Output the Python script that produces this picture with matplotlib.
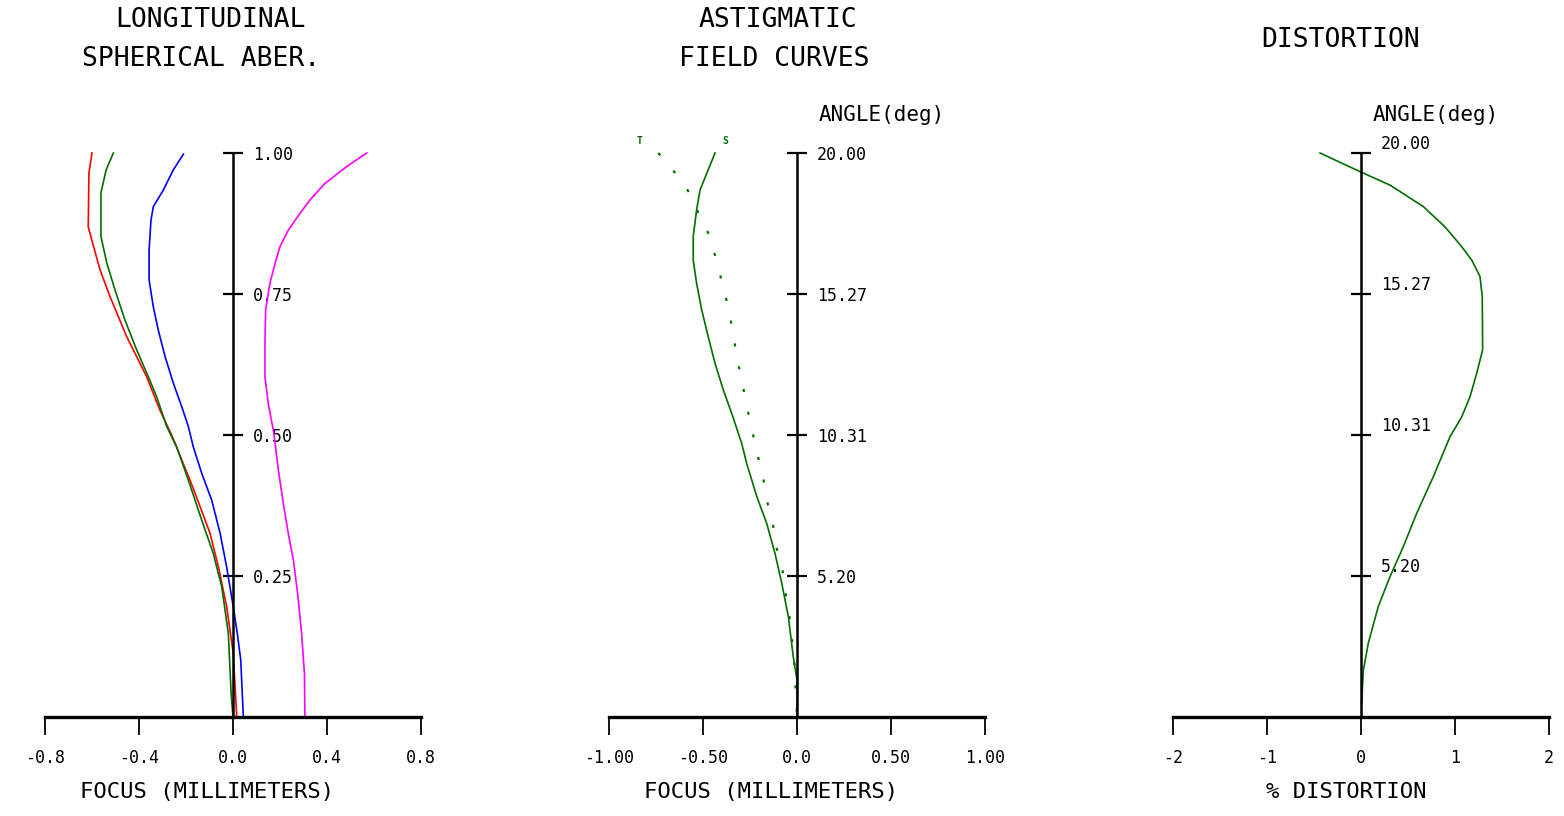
import matplotlib
matplotlib.use("Agg")
import matplotlib.pyplot as plt
import numpy as np

plt.rcParams['font.family'] = ['DejaVu Sans Mono']
plt.rcParams['lines.scale_dashes'] = False

# ---------------- data ----------------
# Longitudinal spherical aberration: relative pupil height vs focus (mm)
sa_red_y = [1.0, 0.965, 0.869, 0.846, 0.793, 0.745, 0.71, 0.674, 0.639, 0.603, 0.544,
            0.5, 0.42, 0.373, 0.326, 0.266, 0.196, 0.113, 0.0]
sa_red_x = [-0.60, -0.613, -0.616, -0.601, -0.566, -0.523, -0.488, -0.452, -0.41, -0.367, -0.311,
            -0.261, -0.183, -0.14, -0.098, -0.062, -0.027, 0.001, 0.016]

sa_green_y = [1.0, 0.97, 0.929, 0.852, 0.805, 0.757, 0.704, 0.651, 0.603, 0.568, 0.515,
              0.479, 0.42, 0.349, 0.29, 0.231, 0.149, 0.042, 0.0]
sa_green_x = [-0.509, -0.54, -0.562, -0.562, -0.537, -0.502, -0.46, -0.41, -0.36, -0.325, -0.282,
              -0.24, -0.19, -0.133, -0.084, -0.048, -0.02, -0.008, 0.0]

sa_blue_y = [0.998, 0.97, 0.934, 0.905, 0.881, 0.828, 0.775, 0.727, 0.686, 0.639, 0.592, 0.55,
             0.515, 0.479, 0.432, 0.385, 0.326, 0.266, 0.196, 0.149, 0.101, 0.0]
sa_blue_x = [-0.211, -0.254, -0.297, -0.339, -0.349, -0.357, -0.357, -0.339, -0.318, -0.289, -0.254, -0.218,
             -0.19, -0.169, -0.133, -0.091, -0.055, -0.027, 0.001, 0.018, 0.033, 0.044]

sa_mag_y = [1.0, 0.976, 0.946, 0.917, 0.893, 0.863, 0.834, 0.804, 0.769, 0.722, 0.663, 0.603, 0.556,
            0.503, 0.438, 0.379, 0.326, 0.278, 0.219, 0.148, 0.077, 0.0]
sa_mag_x = [0.569, 0.484, 0.391, 0.328, 0.285, 0.235, 0.2, 0.179, 0.157, 0.139, 0.136, 0.136, 0.15,
            0.174, 0.193, 0.214, 0.235, 0.257, 0.275, 0.292, 0.304, 0.306]

# Astigmatic field curves: relative field vs focus (mm)
fc_s_y = [1.0, 0.964, 0.934, 0.899, 0.852, 0.81, 0.769, 0.722, 0.674, 0.627, 0.58, 0.538, 0.485,
          0.45, 0.391, 0.343, 0.29, 0.237, 0.178, 0.107, 0.066, 0.0]
fc_s_x = [-0.436, -0.48, -0.516, -0.534, -0.552, -0.552, -0.534, -0.507, -0.472, -0.436, -0.392, -0.347, -0.294,
          -0.268, -0.214, -0.161, -0.117, -0.081, -0.046, -0.02, 0.0, 0.0]

fc_t_y = [1.0, 0.967, 0.928, 0.887, 0.852, 0.807, 0.766, 0.725, 0.68, 0.639, 0.598, 0.553, 0.512,
          0.47, 0.429, 0.385, 0.343, 0.299, 0.258, 0.216, 0.172, 0.095, 0.0]
fc_t_x = [-0.738, -0.654, -0.569, -0.516, -0.463, -0.427, -0.395, -0.365, -0.339, -0.321, -0.294, -0.268, -0.241,
          -0.214, -0.182, -0.161, -0.129, -0.108, -0.076, -0.059, -0.037, -0.014, 0.0]

# Distortion: relative field vs % distortion
dist_y = [1.0, 0.967, 0.943, 0.905, 0.869, 0.834, 0.81, 0.781, 0.745, 0.651, 0.609, 0.568, 0.532,
          0.497, 0.426, 0.361, 0.302, 0.249, 0.196, 0.131, 0.083, 0.025]
dist_x = [-0.436, -0.011, 0.309, 0.663, 0.894, 1.071, 1.178, 1.266, 1.29, 1.294, 1.23, 1.16, 1.071,
          0.947, 0.769, 0.592, 0.45, 0.309, 0.184, 0.078, 0.025, 0.007]

# ticks / labels
y_ticks = [0.25, 0.50, 0.75, 1.00]
sa_ylabels = ["0.25", "0.50", "0.75", "1.00"]
angle_labels = ["5.20", "10.31", "15.27", "20.00"]
sa_xticks = [-0.8, -0.4, 0.0, 0.4, 0.8]
sa_xlabels = ["-0.8", "-0.4", "0.0", "0.4", "0.8"]
fc_xticks = [-1.0, -0.5, 0.0, 0.5, 1.0]
fc_xlabels = ["-1.00", "-0.50", "0.0", "0.50", "1.00"]
dist_xticks = [-2, -1, 0, 1, 2]
dist_xlabels = ["-2", "-1", "0", "1", "2"]

RED = "#ff0000"
GREEN = "#006e00"
BLUE = "#0000ff"
MAG = "#ff00ff"

W, H = 1564, 816
fig = plt.figure(figsize=(W / 100, H / 100), dpi=100)


def px_ax(x0, x1, y_top, y_bot):
    return fig.add_axes([x0 / W, (H - y_bot) / H, (x1 - x0) / W, (y_bot - y_top) / H])


def style_axes(ax, xlim, xticks, xlabels, ylabels):
    ax.set_xlim(*xlim)
    ax.set_ylim(0, 1)
    for s in ("left", "top"):
        ax.spines[s].set_visible(False)
    ax.spines["right"].set_position(("data", 0))
    ax.spines["right"].set_linewidth(1.8)
    ax.spines["bottom"].set_linewidth(2.4)
    ax.yaxis.tick_right()
    ax.set_yticks(y_ticks)
    ax.set_yticklabels(ylabels)
    ax.tick_params(axis="y", direction="inout", length=14.4, width=1.6, pad=7.0,
                   labelsize=12, right=True, left=False)
    ax.set_xticks(xticks)
    ax.set_xticklabels(xlabels)
    ax.tick_params(axis="x", direction="out", length=13, width=1.3, pad=10, labelsize=12)
    ax.patch.set_visible(False)


def ftext(x, y, s, size, ha="center"):
    fig.text(x / W, 1 - y / H, s, fontsize=size, ha=ha, va="center")


# Panel 1
ax1 = px_ax(45, 421, 153, 717)
style_axes(ax1, (-0.8, 0.8), sa_xticks, sa_xlabels, sa_ylabels)
lw = 1.2
ax1.plot(sa_red_x, sa_red_y, color=RED, lw=lw, clip_on=False)
ax1.plot(sa_green_x, sa_green_y, color=GREEN, lw=lw, clip_on=False)
ax1.plot(sa_blue_x, sa_blue_y, color=BLUE, lw=lw, clip_on=False)
ax1.plot(sa_mag_x, sa_mag_y, color=MAG, lw=lw, clip_on=False)

# Panel 2
ax2 = px_ax(609, 985, 153, 717)
style_axes(ax2, (-1.0, 1.0), fc_xticks, fc_xlabels, angle_labels)
ax2.plot(fc_s_x, fc_s_y, color=GREEN, lw=lw, clip_on=False)
ax2.plot(fc_t_x, fc_t_y, color=GREEN, lw=1.6, ls=(0, (2.2, 14.5)), clip_on=False)
ax2.text(-0.835, 1.021, "T", color=GREEN, fontsize=7, fontweight="bold", ha="center", va="center")
ax2.text(-0.383, 1.021, "S", color=GREEN, fontsize=7, fontweight="bold", ha="center", va="center")

# Panel 3
ax3 = px_ax(1173, 1549, 153, 717)
style_axes(ax3, (-2.3, 2.3), dist_xticks, dist_xlabels, angle_labels)
ax3.set_xlim(-2, 2)
ax3.plot(dist_x, dist_y, color=GREEN, lw=lw, clip_on=False)
for t in ax3.get_yticklabels():
    t.set_verticalalignment("bottom")

# Titles and labels
ftext(210, 20, "LONGITUDINAL", 19)
ftext(201, 59, "SPHERICAL ABER.", 19)
ftext(778, 20, "ASTIGMATIC", 19)
ftext(774, 59, "FIELD CURVES", 19)
ftext(1341, 40, "DISTORTION", 19)
ftext(882, 115, "ANGLE(deg)", 15)
ftext(1436, 115, "ANGLE(deg)", 15)
ftext(207, 792, "FOCUS (MILLIMETERS)", 16)
ftext(771, 792, "FOCUS (MILLIMETERS)", 16)
ftext(1346, 792, "% DISTORTION", 16)

fig.savefig("out.png", dpi=100, facecolor="white")
